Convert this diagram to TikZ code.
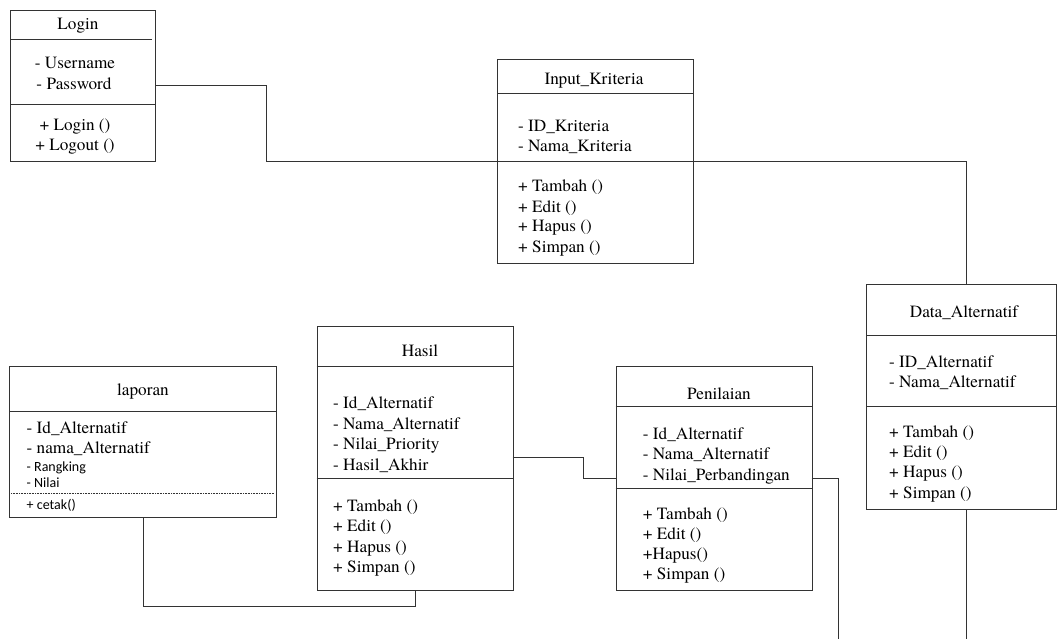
\documentclass[tikz,border=0pt]{standalone}
\usepackage{fontspec}
\setmainfont{texgyretermes-regular.otf}
\newfontfamily\smallsans{Carlito}
\begin{document}
\begin{tikzpicture}[x=1pt,y=1pt,
  wire/.style={draw=black!80, line width=1pt},
  classbox/.style={draw=black!80, line width=1pt, rectangle, inner sep=0pt, anchor=north west},
  txt/.style={anchor=base west, inner sep=0pt, font=\rmfamily\fontsize{17.2}{20}\selectfont},
  ctxt/.style={anchor=base, inner sep=0pt, font=\rmfamily\fontsize{17.2}{20}\selectfont},
  stxt/.style={anchor=base west, inner sep=0pt, font=\smallsans\fontsize{14}{16}\selectfont}]
\useasboundingbox (0,0) rectangle (1057,-639);

% ---------- Login ----------
\node[classbox, minimum width=145, minimum height=151] (login) at (10,-10) {};
\draw[wire] (10,-39.5) -- (152,-39.5);
\draw[wire] (10,-104.3) -- (155,-104.3);
\node[ctxt] (login-t) at (78,-30) {Login};
\node[ctxt] (login-a0) at (75,-69) {- Username};
\node[ctxt] (login-a1) at (74,-90) {- Password};
\node[ctxt] (login-m0) at (75,-131) {+ Login ()};
\node[ctxt] (login-m1) at (75,-150.5) {+ Logout ()};

% ---------- Input_Kriteria ----------
\node[classbox, minimum width=196, minimum height=204] (krit) at (497.3,-59.3) {};
\draw[wire] (497.3,-93.3) -- (693.3,-93.3);
\node[ctxt] (krit-t) at (594,-85) {Input\_Kriteria};
\foreach \t [count=\i from 0] in {- ID\_Kriteria, - Nama\_Kriteria}
  \node[txt] (krit-a\i) at (518,-132-20*\i) {\t};
\foreach \t [count=\i from 0] in {+ Tambah (), + Edit (), + Hapus (), + Simpan ()}
  \node[txt] (krit-m\i) at (518,-192-20*\i) {\t};

% ---------- Data_Alternatif ----------
\node[classbox, minimum width=190, minimum height=225.3] (data) at (866,-284) {};
\draw[wire] (866,-335) -- (1056,-335);
\draw[wire] (866,-406.7) -- (1056,-406.7);
\node[ctxt] (data-t) at (964,-317) {Data\_Alternatif};
\foreach \t [count=\i from 0] in {- ID\_Alternatif, - Nama\_Alternatif}
  \node[txt] (data-a\i) at (889,-367-20*\i) {\t};
\foreach \t [count=\i from 0] in {+ Tambah (), + Edit (), + Hapus (), + Simpan ()}
  \node[txt] (data-m\i) at (889,-437-20.4*\i) {\t};

% ---------- laporan ----------
\node[classbox, minimum width=266.7, minimum height=151] (lap) at (9.3,-366) {};
\draw[wire] (9.3,-411.7) -- (276,-411.7);
\draw[black!80, line width=0.6pt, densely dotted] (9.3,-493.3) -- (274,-493.3);
\node[ctxt] (lap-t) at (143,-395) {laporan};
\node[txt] (lap-a0) at (26.5,-433) {- Id\_Alternatif};
\node[txt] (lap-a1) at (26.5,-453) {- nama\_Alternatif};
\node[stxt] (lap-a2) at (26.5,-471.5) {- Rangking};
\node[stxt] (lap-a3) at (26.5,-487) {- Nilai};
\node[stxt] (lap-m0) at (26.5,-509.5) {+ cetak()};

% ---------- Hasil ----------
\node[classbox, minimum width=196, minimum height=264.3] (hasil) at (316.7,-325.7) {};
\draw[wire] (316.7,-366) -- (512.7,-366);
\draw[wire] (316.7,-478.3) -- (512.7,-478.3);
\node[ctxt] (hasil-t) at (420,-356) {Hasil};
\foreach \t [count=\i from 0] in {- Id\_Alternatif, - Nama\_Alternatif, - Nilai\_Priority, - Hasil\_Akhir}
  \node[txt] (hasil-a\i) at (333,-408.3-20.8*\i) {\t};
\foreach \t [count=\i from 0] in {+ Tambah (), + Edit (), + Hapus (), + Simpan ()}
  \node[txt] (hasil-m\i) at (333,-511.7-20.2*\i) {\t};

% ---------- Penilaian ----------
\node[classbox, minimum width=196, minimum height=224] (nilai) at (615.7,-366) {};
\draw[wire] (615.7,-406.7) -- (811.7,-406.7);
\draw[wire] (615.7,-488.3) -- (811.7,-488.3);
\node[ctxt] (nilai-t) at (719,-399) {Penilaian};
\foreach \t [count=\i from 0] in {- Id\_Alternatif, - Nama\_Alternatif, - Nilai\_Perbandingan}
  \node[txt] (nilai-a\i) at (642.7,-439-20.5*\i) {\t};
\foreach \t [count=\i from 0] in {+ Tambah (), + Edit (), +Hapus(), + Simpan ()}
  \node[txt] (nilai-m\i) at (642.7,-519.3-20.2*\i) {\t};

% ---------- connector end and bend points ----------
\coordinate (bendA) at (266.5,-162);
\coordinate (dtop) at (966,-284);
\coordinate (dbot) at (966,-509.3);
\coordinate (dend) at (966,-639);
\coordinate (lapbot) at (143.3,-517);
\coordinate (bendB) at (143.3,-606);
\coordinate (hasbot) at (415,-590);
\coordinate (hasR) at (512.7,-457.7);
\coordinate (bendC) at (583.3,-478.3);
\coordinate (penL) at (615.7,-478.3);
\coordinate (penR) at (811.7,-478.3);
\coordinate (pend) at (838.5,-639);

% ---------- connectors ----------
\draw[wire] (login.east) -| (bendA) -| (dtop);
\draw[wire] (dbot) -- (dend);
\draw[wire] (lapbot) -- (bendB) -| (hasbot);
\draw[wire] (hasR) -| (bendC) -- (penL);
\draw[wire] (penR) -| (pend);
\end{tikzpicture}
\end{document}
